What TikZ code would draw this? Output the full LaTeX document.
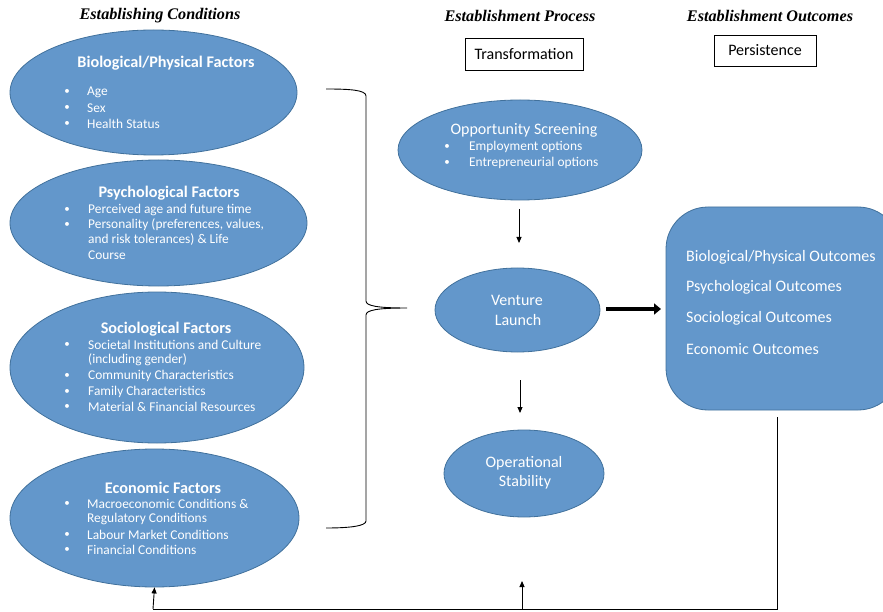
\documentclass[tikz,border=0pt]{standalone}
\usepackage{fontspec}
\setmainfont{Carlito}
\newfontfamily\hdrfont{Liberation Serif}
\usetikzlibrary{shapes.geometric,arrows.meta}
\definecolor{ellfill}{RGB}{99,151,203}
\definecolor{elldraw}{RGB}{65,113,156}
\tikzset{
  ell/.style={ellipse, fill=ellfill, draw=elldraw, line width=0.8pt, inner sep=0pt},
  hdr/.style={font=\hdrfont\bfseries\itshape\fontsize{16.2}{18}\selectfont, inner sep=0pt},
  boxlbl/.style={draw, line width=0.8pt, font=\fontsize{16}{18}\selectfont, inner sep=0pt},
  ttl/.style={text=white, font=\bfseries\fontsize{16.2}{18}\selectfont, inner sep=0pt},
  itm/.style={text=white, font=\fontsize{13.4}{15}\selectfont, inner sep=0pt, anchor=west},
  bul/.style={text=white, font=\fontsize{11}{13}\selectfont, inner sep=0pt},
  big/.style={text=white, font=\fontsize{16}{18}\selectfont, inner sep=0pt},
  outl/.style={text=white, font=\fontsize{16}{18}\selectfont, inner sep=0pt, anchor=west},
  arr/.style={-{Triangle[length=6pt,width=5pt]}, line width=0.9pt},
  fb/.style={line width=0.9pt},
}
\begin{document}
\begin{tikzpicture}[x=1pt,y=-1pt]
\useasboundingbox (0,0) rectangle (883,612);

% headers
\node[hdr] (h1) at (160,16) {Establishing Conditions};
\node[hdr] (h2) at (520,16) {Establishment Process};
\node[hdr] (h3) at (770,16) {Establishment Outcomes};
\node[boxlbl, minimum width=118pt, minimum height=32pt] (trans) at (524,54) {Transformation};
\node[boxlbl, minimum width=102pt, minimum height=31pt] (pers) at (765,50.5) {Persistence};

% left ellipses
\node[ell, minimum width=287pt, minimum height=125pt] (bio) at (153.5,92.5) {};
\node[ttl] (biot) at (166,63) {Biological/Physical Factors};
\foreach \y/\t [count=\i] in {92/Age,108/Sex,124/Health Status}{
  \node[bul] (biob\i) at (67,\y) {•};
  \node[itm] (bioi\i) at (87,\y) {\t};
}

\node[ell, minimum width=297pt, minimum height=126pt] (psy) at (158.5,223) {};
\node[ttl] (psyt) at (169,193) {Psychological Factors};
\node[bul] (psyb1) at (67,210) {•};
\node[itm] (psyi1) at (88,210) {Perceived age and future time};
\node[bul] (psyb2) at (67,225) {•};
\node[itm] (psyi2) at (88,225) {Personality (preferences, values,};
\node[itm] (psyi3) at (88,240) {and risk tolerances) \& Life};
\node[itm] (psyi4) at (88,255) {Course};

\node[ell, minimum width=294pt, minimum height=151pt] (soc) at (157,367.5) {};
\node[ttl] (soct) at (166,329) {Sociological Factors};
\node[bul] (socb1) at (67,345) {•};
\node[itm] (soci1) at (88,345) {Societal Institutions and Culture};
\node[itm] (soci2) at (88,360) {(including gender)};
\node[bul] (socb2) at (67,376) {•};
\node[itm] (soci3) at (88,376) {Community Characteristics};
\node[bul] (socb3) at (67,392) {•};
\node[itm] (soci4) at (88,392) {Family Characteristics};
\node[bul] (socb4) at (67,407) {•};
\node[itm] (soci5) at (88,407) {Material \& Financial Resources};

\node[ell, minimum width=289pt, minimum height=138pt] (eco) at (154.5,518) {};
\node[ttl] (ecot) at (163,488) {Economic Factors};
\node[bul] (ecob1) at (67,504) {•};
\node[itm] (ecoi1) at (87,504) {Macroeconomic Conditions \&};
\node[itm] (ecoi2) at (87,519) {Regulatory Conditions};
\node[bul] (ecob2) at (67,535) {•};
\node[itm] (ecoi3) at (87,535) {Labour Market Conditions};
\node[bul] (ecob3) at (67,550) {•};
\node[itm] (ecoi4) at (87,550) {Financial Conditions};

% brace
\draw[line width=0.9pt] (326,89) .. controls (350,89) and (366,90) .. (366,96)
  -- (366,301) .. controls (366,306) and (378,308) .. (407,308)
  .. controls (378,308) and (366,310) .. (366,315)
  -- (366,521) .. controls (366,526) and (350,528) .. (326,528);

% middle ellipses
\node[ell, minimum width=244pt, minimum height=100pt] (opp) at (520,150) {};
\node[big] (oppt) at (524,130) {Opportunity Screening};
\node[bul] (oppb1) at (447,147) {•};
\node[itm] (oppi1) at (469,147) {Employment options};
\node[bul] (oppb2) at (447,163) {•};
\node[itm] (oppi2) at (469,163) {Entrepreneurial options};

\node[ell, minimum width=165pt, minimum height=84pt] (ven) at (517.5,310) {};
\node[big] (vent1) at (517,300) {Venture};
\node[big] (vent2) at (518,320) {Launch};

\node[ell, minimum width=160pt, minimum height=87pt] (ops) at (524,473.5) {};
\node[big] (opst1) at (524,463) {Operational};
\node[big] (opst2) at (525,482) {Stability};

% outcomes box
\node[draw=elldraw, fill=ellfill, line width=0.8pt, rounded corners=42pt,
      minimum width=234pt, minimum height=203pt, inner sep=0pt] (outc) at (783,308.5) {};
\node[outl] (o1) at (686,257) {Biological/Physical Outcomes};
\node[outl] (o2) at (686,287) {Psychological Outcomes};
\node[outl] (o3) at (686,318) {Sociological Outcomes};
\node[outl] (o4) at (686,349) {Economic Outcomes};

% arrows
\coordinate (a1s) at (519,209);
\coordinate (a1e) at (519,243);
\draw[arr] (a1s) -- (a1e);
\coordinate (a2s) at (520,380);
\coordinate (a2e) at (520,413);
\draw[arr] (a2s) -- (a2e);
\coordinate (a3s) at (606,309);
\coordinate (a3e) at (661,309);
\draw[-{Triangle[length=7pt,width=11pt]}, line width=4pt] (a3s) -- (a3e);

% feedback
\coordinate (fb0) at (777,417);
\coordinate (fb1) at (777,609);
\coordinate (fb2) at (153,609);
\coordinate (fbm) at (522,609);
\coordinate (fbt) at (522,581);
\draw[fb] (fb0) -- (fb1) -- (fb2);
\draw[arr] (fb2) -- (eco.south);
\draw[arr] (fbm) -- (fbt);
\end{tikzpicture}
\end{document}
